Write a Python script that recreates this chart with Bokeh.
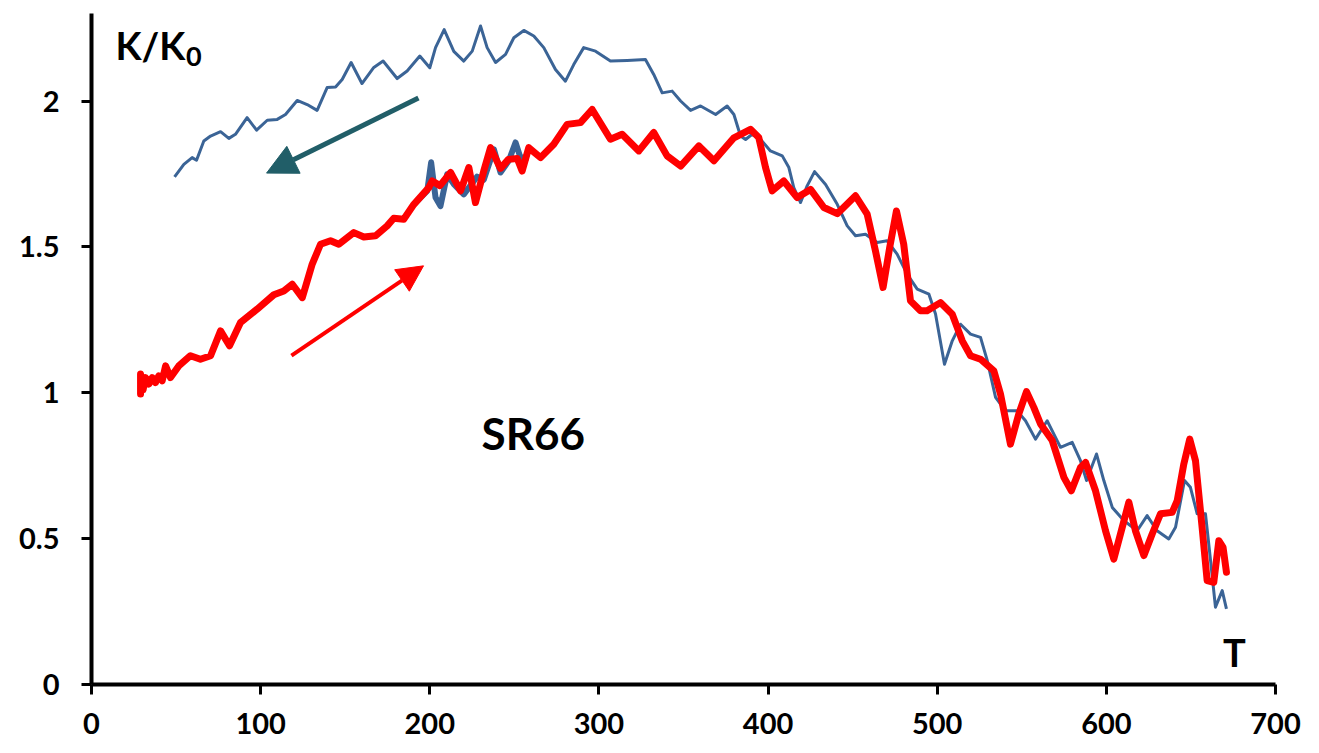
from bokeh.plotting import figure
from bokeh.models import Range1d, FixedTicker, Label, Arrow, NormalHead
from bokeh.embed import file_html
from bokeh.resources import INLINE

# ---- data ----
cool_T = [49.1, 54.6, 59.5, 62.1, 66.4, 70.4, 76.3, 81.2, 85.1, 92.0, 97.6, 103.9, 109.8, 114.7,
          121.6, 127.5, 133.4, 139.3, 144.3, 148.2, 153.5, 159.9, 166.9, 172.4, 180.7, 186.6,
          194.1, 200.0, 203.4, 208.5, 214.2, 220.1, 225.1, 230.0, 233.9, 238.9, 244.8, 249.7,
          255.6, 261.5, 267.4, 274.3, 280.2, 285.1, 291.0, 298.0, 306.8, 316.7, 327.5, 332.4,
          337.4, 343.3, 348.3, 354.2, 360.1, 369.0, 375.8, 379.8, 383.7, 386.7, 390.6, 395.5,
          401.4, 408.4, 412.3, 415.2, 419.2, 423.1, 427.5, 434.0, 440.9, 446.8, 451.7, 457.6,
          464.5, 470.4, 476.3, 482.3, 488.2, 495.1, 499.0, 504.3, 508.9, 513.8, 519.7, 525.6,
          529.6, 534.5, 540.4, 547.3, 552.2, 558.1, 565.0, 572.9, 579.8, 584.7, 588.3, 594.2,
          598.5, 603.5, 610.3, 618.2, 624.1, 630.0, 636.9, 640.9, 646.2, 649.7, 653.7, 658.6,
          661.6, 664.5, 668.5, 671.0]
cool_K = [1.740, 1.783, 1.806, 1.797, 1.863, 1.880, 1.895, 1.872, 1.886, 1.943, 1.900, 1.934, 1.937, 1.954,
          2.002, 1.988, 1.968, 2.046, 2.048, 2.074, 2.132, 2.060, 2.115, 2.137, 2.077, 2.103,
          2.154, 2.114, 2.183, 2.245, 2.170, 2.137, 2.171, 2.257, 2.183, 2.132, 2.160, 2.217,
          2.242, 2.223, 2.183, 2.108, 2.068, 2.125, 2.183, 2.171, 2.137, 2.139, 2.142, 2.091,
          2.028, 2.034, 2.000, 1.968, 1.983, 1.954, 1.983, 1.954, 1.880, 1.868, 1.886, 1.869,
          1.829, 1.812, 1.772, 1.703, 1.652, 1.709, 1.758, 1.714, 1.646, 1.572, 1.538, 1.543,
          1.515, 1.521, 1.475, 1.406, 1.355, 1.338, 1.270, 1.098, 1.178, 1.235, 1.201, 1.190,
          1.110, 0.984, 0.938, 0.938, 0.904, 0.841, 0.904, 0.813, 0.830, 0.767, 0.699, 0.790,
          0.699, 0.607, 0.562, 0.527, 0.579, 0.527, 0.499, 0.539, 0.699, 0.676, 0.585, 0.585,
          0.425, 0.265, 0.322, 0.259]

heat2_T = [190.6, 198.5, 200.8, 203.4, 206.3, 210.3, 214.2, 220.1, 228.0, 231.9, 237.9, 241.8,
           246.7, 250.7, 253.6, 258.5]
heat2_K = [1.646, 1.692, 1.790, 1.669, 1.640, 1.749, 1.715, 1.680, 1.741, 1.730, 1.834, 1.755,
           1.795, 1.858, 1.806, 1.806]

heat_T = [29.0, 29.0, 30.5, 31.9, 33.9, 35.9, 37.8, 39.8, 41.8, 43.8, 46.7, 51.6, 58.5, 64.4, 70.4,
          76.3, 81.6, 88.1, 98.0, 107.8, 113.7, 118.7, 124.6, 130.5, 135.4, 141.3, 146.2, 155.1,
          161.0, 167.9, 174.8, 178.7, 184.6, 190.6, 199.4, 201.4, 206.0, 212.3, 218.2, 223.1,
          227.0, 231.9, 235.9, 241.8, 246.5, 251.7, 254.6, 258.5, 265.5, 273.3, 281.2, 289.1,
          296.0, 306.8, 313.7, 323.6, 332.4, 340.3, 348.3, 359.1, 368.0, 379.8, 389.6, 394.5,
          398.5, 402.4, 409.3, 417.2, 425.1, 433.0, 440.9, 451.7, 458.6, 463.5, 468.0, 471.9,
          475.9, 480.2, 484.2, 490.1, 494.0, 501.9, 508.9, 514.8, 519.7, 525.6, 533.5, 537.4,
          543.3, 548.2, 552.8, 557.1, 561.1, 568.0, 574.9, 579.3, 584.7, 587.7, 593.6, 599.5,
          604.4, 609.4, 613.3, 617.2, 622.2, 627.1, 632.0, 638.9, 641.9, 645.8, 649.3, 652.7,
          656.6, 659.6, 663.5, 666.5, 669.0, 671.0]
heat_K = [0.996, 1.064, 1.010, 1.052, 1.030, 1.052, 1.035, 1.058, 1.041, 1.092, 1.052, 1.092, 1.127,
          1.115, 1.127, 1.212, 1.161, 1.241, 1.287, 1.336, 1.349, 1.372, 1.326, 1.441, 1.509,
          1.521, 1.509, 1.549, 1.534, 1.538, 1.572, 1.598, 1.595, 1.646, 1.703, 1.726, 1.710,
          1.755, 1.692, 1.772, 1.652, 1.760, 1.840, 1.769, 1.800, 1.803, 1.760, 1.840, 1.806,
          1.852, 1.920, 1.926, 1.971, 1.869, 1.886, 1.829, 1.892, 1.812, 1.777, 1.846, 1.795,
          1.874, 1.903, 1.875, 1.772, 1.692, 1.726, 1.669, 1.697, 1.635, 1.614, 1.675, 1.612,
          1.486, 1.361, 1.498, 1.623, 1.509, 1.315, 1.281, 1.281, 1.309, 1.269, 1.178, 1.127,
          1.115, 1.075, 0.996, 0.824, 0.927, 1.004, 0.950, 0.893, 0.836, 0.710, 0.664, 0.744,
          0.761, 0.664, 0.527, 0.430, 0.539, 0.625, 0.527, 0.442, 0.516, 0.585, 0.590, 0.630,
          0.756, 0.841, 0.767, 0.539, 0.356, 0.350, 0.493, 0.470, 0.385]

x_ticks = [0, 100, 200, 300, 400, 500, 600, 700]
y_ticks = [0, 0.5, 1, 1.5, 2]
y_tick_labels = ["0", "0.5", "1", "1.5", "2"]

cool_arrow = [193.3, 2.010, 103.5, 1.753]   # start x, start y, tip x, tip y
heat_arrow = [118.2, 1.127, 196.3, 1.435]

FONT = "Lato"
BLUE = "#3B6496"
RED = "#FF0000"
TEAL = "#215E68"

p = figure(width=1319, height=753, output_backend="svg", toolbar_location=None,
           x_range=Range1d(0, 700), y_range=Range1d(0, 2.3),
           min_border_left=91, min_border_right=44, min_border_top=13, min_border_bottom=69)
p.outline_line_color = None
p.xgrid.visible = False
p.ygrid.visible = False
p.background_fill_color = "white"
p.border_fill_color = "white"

for ax in (p.xaxis[0], p.yaxis[0]):
    ax.axis_line_width = 4
    ax.axis_line_color = "black"
    ax.major_tick_line_width = 3
    ax.major_tick_line_color = "black"
    ax.major_tick_out = 10
    ax.major_tick_in = 0
    ax.minor_tick_line_color = None
    ax.major_label_text_font = FONT
    ax.major_label_text_font_style = "bold"
    ax.major_label_text_font_size = "29px"
    ax.major_label_text_color = "black"

p.xaxis.ticker = FixedTicker(ticks=x_ticks)
p.yaxis.ticker = FixedTicker(ticks=y_ticks)
p.yaxis.major_label_overrides = {t: s for t, s in zip(y_ticks, y_tick_labels)}
p.xaxis.major_label_standoff = 18
p.yaxis.major_label_standoff = 22

p.line(cool_T, cool_K, line_color=BLUE, line_width=3, line_join="round")
p.line(heat2_T, heat2_K, line_color=BLUE, line_width=6, line_join="round")
p.line(heat_T, heat_K, line_color=RED, line_width=7, line_join="round", line_cap="round")

p.add_layout(Arrow(x_start=cool_arrow[0], y_start=cool_arrow[1], x_end=cool_arrow[2], y_end=cool_arrow[3],
                   line_color=TEAL, line_width=5,
                   end=NormalHead(size=30, fill_color=TEAL, line_color=TEAL)))
p.add_layout(Arrow(x_start=heat_arrow[0], y_start=heat_arrow[1], x_end=heat_arrow[2], y_end=heat_arrow[3],
                   line_color=RED, line_width=4,
                   end=NormalHead(size=26, fill_color=RED, line_color=RED)))

def lab(x, y, text, size):
    p.add_layout(Label(x=x, y=y, text=text, text_font=FONT, text_font_style="bold",
                       text_font_size=size, text_color="black", text_baseline="alphabetic"))

lab(14.2, 2.192, "K/K", "38px")
lab(55.8, 2.154, "0", "27px")
lab(230.6, 0.863, "SR66", "44px")
lab(669.0, 0.110, "T", "38px")

open("out.html", "w").write(file_html(p, INLINE))
